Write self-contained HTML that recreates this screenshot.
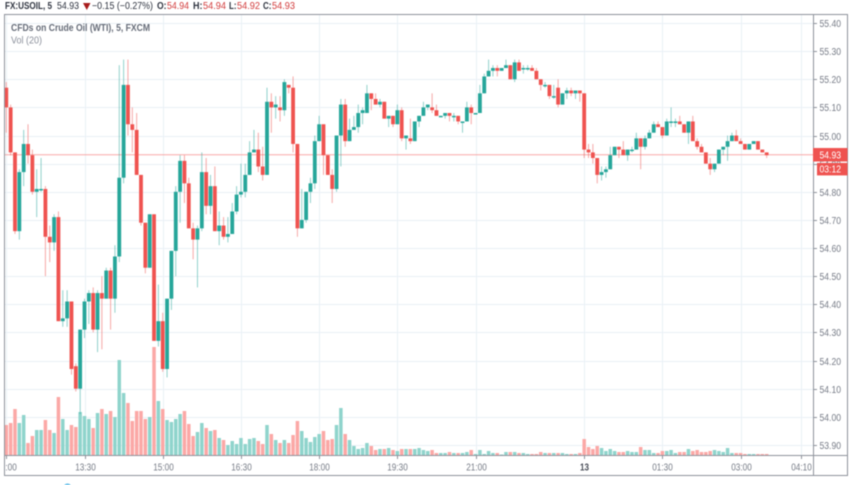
<!DOCTYPE html>
<html lang="en">
<head>
<meta charset="utf-8">
<title>FX:USOIL 5 minute chart</title>
<style>
  html, body { margin: 0; padding: 0; background: #fff; }
  body { width: 852px; height: 485px; overflow: hidden; position: relative; font-family: "Liberation Sans", sans-serif; }
  svg { position: absolute; left: 0; top: 0; display: block; filter: blur(0.5px); }
  text { font-family: "Liberation Sans", sans-serif; }
</style>
</head>
<body>
<svg id="chart" width="852" height="485" viewBox="0 0 852 485" xmlns="http://www.w3.org/2000/svg">
  <defs>
    <clipPath id="pane-clip"><rect x="5" y="15" width="808" height="440"></rect></clipPath>
    <clipPath id="time-clip"><rect x="5" y="455" width="808" height="20"></rect></clipPath>
  </defs>
  <g font-size="10" font-weight="700" fill="#2f3440">
    <text x="5" y="9" textLength="47" lengthAdjust="spacingAndGlyphs">FX:USOIL, 5</text>
    <text x="57" y="9" font-weight="400" textLength="22" lengthAdjust="spacingAndGlyphs">54.93</text>
    <polygon points="83,3 90.5,3 86.8,10" fill="#a81c1c"></polygon>
    <text x="92" y="9" font-weight="400" textLength="61" lengthAdjust="spacingAndGlyphs">−0.15 (−0.27%)</text>
    <text x="157" y="9" textLength="9.5" lengthAdjust="spacingAndGlyphs">O:</text>
    <text x="167" y="9" font-weight="400" fill="#d23c3c" textLength="22" lengthAdjust="spacingAndGlyphs">54.94</text>
    <text x="193" y="9" textLength="9.5" lengthAdjust="spacingAndGlyphs">H:</text>
    <text x="203" y="9" font-weight="400" fill="#d23c3c" textLength="23" lengthAdjust="spacingAndGlyphs">54.94</text>
    <text x="229" y="9" textLength="7.5" lengthAdjust="spacingAndGlyphs">L:</text>
    <text x="237" y="9" font-weight="400" fill="#d23c3c" textLength="23" lengthAdjust="spacingAndGlyphs">54.92</text>
    <text x="263" y="9" textLength="8.5" lengthAdjust="spacingAndGlyphs">C:</text>
    <text x="272" y="9" font-weight="400" fill="#d23c3c" textLength="23" lengthAdjust="spacingAndGlyphs">54.93</text>
  </g>
  <g id="grid"></g>
  <g id="pane" clip-path="url(#pane-clip)">
    <g id="volumes"></g>
    <line id="last-line" x1="5" x2="813" stroke="#f8a9a8" stroke-width="1"></line>
    <g id="candles"></g>
  </g>
  <g>
    <text x="11" y="31" font-size="10" font-weight="700" fill="#666c78" textLength="139" lengthAdjust="spacingAndGlyphs">CFDs on Crude Oil (WTI), 5, FXCM</text>
    <text x="11" y="43.5" font-size="10" fill="#8b909b" textLength="31" lengthAdjust="spacingAndGlyphs">Vol (20)</text>
  </g>
  <g fill="none" stroke="#8f939c" stroke-width="1">
    <rect x="4.5" y="14.5" width="843" height="461"></rect>
    <line x1="813.5" y1="14.5" x2="813.5" y2="475.5"></line>
    <line x1="4.5" y1="455.5" x2="847.5" y2="455.5"></line>
  </g>
  <g id="price-axis"></g>
  <g id="time-axis" clip-path="url(#time-clip)"></g>
  <g>
    <rect id="last-box" x="813" width="34.5" height="13.5" fill="#ef5350"></rect>
    <text id="last-text" x="819.5" font-size="10" fill="#fff" textLength="21.5" lengthAdjust="spacingAndGlyphs"></text>
    <rect id="count-box" x="817" width="30.5" height="12.5" fill="#ef5350"></rect>
    <text id="count-text" x="819.5" font-size="10" fill="#fff" textLength="21.5" lengthAdjust="spacingAndGlyphs">03:12</text>
  </g>
  <circle cx="67.5" cy="488" r="4.5" fill="#4fb6e6"></circle>
</svg>
<script>
const opens = [55.17,55.10,54.94,54.66,54.87,54.97,54.93,54.80,54.81,54.81,54.64,54.62,54.71,54.34,54.35,54.41,54.18,54.10,54.31,54.41,54.44,54.31,54.44,54.42,54.52,54.42,54.57,54.85,55.18,55.04,55.02,54.86,54.69,54.53,54.72,54.27,54.34,54.17,54.42,54.59,54.80,54.91,54.83,54.67,54.63,54.67,54.87,54.75,54.82,54.66,54.68,54.64,54.65,54.73,54.79,54.80,54.86,54.94,54.95,54.89,54.86,55.12,55.10,55.10,55.09,55.18,55.17,54.97,54.67,54.70,54.80,54.83,54.98,55.04,54.93,54.86,54.81,55.00,55.11,54.98,55.02,55.03,55.08,55.08,55.15,55.13,55.11,55.12,55.06,55.07,55.04,55.09,54.99,54.99,54.98,55.05,55.07,55.10,55.10,55.09,55.07,55.07,55.08,55.07,55.07,55.05,55.05,55.10,55.08,55.08,55.15,55.21,55.23,55.24,55.23,55.24,55.25,55.20,55.26,55.24,55.24,55.24,55.23,55.20,55.18,55.18,55.14,55.17,55.11,55.15,55.16,55.15,55.16,55.15,54.95,54.94,54.92,54.86,54.87,54.88,54.93,54.96,54.95,54.93,54.95,54.95,54.99,54.96,54.99,55.01,55.04,55.03,55.00,55.05,55.05,55.05,55.04,55.01,55.05,54.98,54.96,54.94,54.90,54.88,54.90,54.95,54.96,54.98,55.00,54.98,54.97,54.95,54.97,54.98,54.95,54.94];
const highs = [55.19,55.11,54.94,54.88,55.02,55.04,54.95,54.88,54.92,54.82,54.68,54.72,54.73,54.45,54.45,54.41,54.19,54.31,54.42,54.45,54.46,54.45,54.50,54.53,54.53,54.61,55.25,55.27,55.27,55.10,55.08,54.86,54.69,54.72,54.72,54.47,54.37,54.42,54.59,54.82,54.93,54.93,54.85,54.69,54.68,54.94,54.92,54.86,54.89,54.73,54.71,54.71,54.76,54.82,54.90,54.90,54.98,55.02,55.01,54.96,55.17,55.15,55.14,55.14,55.20,55.18,55.21,54.97,54.81,54.80,54.85,55.00,55.07,55.04,54.93,54.88,55.00,55.13,55.13,55.06,55.07,55.11,55.10,55.18,55.15,55.15,55.13,55.12,55.07,55.07,55.11,55.10,55.00,55.06,55.05,55.07,55.12,55.11,55.15,55.11,55.07,55.08,55.08,55.08,55.07,55.05,55.12,55.11,55.08,55.18,55.22,55.27,55.25,55.25,55.24,55.27,55.25,55.27,55.27,55.25,55.25,55.25,55.24,55.20,55.19,55.18,55.18,55.20,55.15,55.17,55.17,55.16,55.16,55.15,54.97,54.97,54.92,54.89,54.89,54.96,54.96,54.96,54.98,54.95,54.96,55.01,54.99,55.00,55.02,55.05,55.05,55.03,55.06,55.10,55.06,55.07,55.04,55.05,55.07,54.99,54.97,54.94,54.92,54.90,54.95,54.96,55.00,55.01,55.02,54.99,54.97,54.97,54.98,54.98,54.95,54.94];
const lows = [55.01,54.93,54.65,54.63,54.82,54.90,54.79,54.71,54.80,54.50,54.55,54.59,54.34,54.32,54.32,54.15,54.09,54.01,54.28,54.33,54.30,54.23,54.24,54.42,54.31,54.37,54.55,54.83,55.00,54.94,54.86,54.68,54.51,54.53,54.27,54.25,54.16,54.14,54.38,54.50,54.69,54.76,54.67,54.56,54.46,54.66,54.72,54.72,54.66,54.61,54.63,54.62,54.65,54.72,54.78,54.78,54.86,54.94,54.87,54.84,54.86,55.01,55.06,55.05,55.07,55.15,54.94,54.64,54.67,54.69,54.76,54.81,54.98,54.86,54.86,54.76,54.80,54.89,54.96,54.98,55.02,55.01,55.04,55.08,55.09,55.11,55.10,55.06,55.03,55.03,55.04,54.98,54.95,54.97,54.98,55.03,55.07,55.09,55.08,55.07,55.07,55.06,55.05,55.05,55.04,55.01,55.05,55.04,55.08,55.08,55.15,55.21,55.21,55.21,55.23,55.24,55.20,55.19,55.23,55.22,55.23,55.23,55.20,55.16,55.17,55.13,55.13,55.10,55.11,55.13,55.14,55.13,55.12,54.92,54.92,54.90,54.83,54.84,54.85,54.88,54.93,54.92,54.93,54.91,54.94,54.95,54.88,54.95,54.99,55.01,55.03,54.99,55.00,55.03,55.03,55.04,55.01,54.97,54.98,54.95,54.94,54.90,54.86,54.87,54.90,54.93,54.91,54.98,54.98,54.97,54.95,54.95,54.97,54.95,54.94,54.92];
const closes = [55.10,54.94,54.66,54.87,54.97,54.93,54.80,54.81,54.81,54.64,54.62,54.71,54.34,54.35,54.41,54.17,54.10,54.31,54.41,54.44,54.31,54.44,54.42,54.52,54.42,54.57,54.85,55.18,55.04,55.02,54.86,54.69,54.53,54.72,54.27,54.34,54.17,54.42,54.59,54.80,54.91,54.83,54.67,54.63,54.67,54.87,54.75,54.82,54.66,54.68,54.64,54.65,54.73,54.79,54.80,54.86,54.94,54.95,54.89,54.86,55.12,55.10,55.11,55.09,55.19,55.17,54.97,54.67,54.70,54.80,54.83,54.98,55.04,54.93,54.86,54.81,55.00,55.11,54.98,55.02,55.03,55.08,55.09,55.15,55.13,55.11,55.12,55.06,55.07,55.04,55.09,54.99,55.00,54.98,55.05,55.07,55.10,55.11,55.09,55.07,55.07,55.08,55.07,55.07,55.05,55.05,55.10,55.08,55.08,55.15,55.21,55.23,55.24,55.23,55.24,55.25,55.20,55.26,55.23,55.24,55.24,55.23,55.20,55.18,55.18,55.14,55.14,55.11,55.15,55.16,55.15,55.16,55.15,54.95,54.94,54.92,54.86,54.87,54.88,54.93,54.96,54.95,54.93,54.95,54.95,54.99,54.96,54.99,55.01,55.04,55.03,55.00,55.05,55.05,55.05,55.04,55.01,55.05,54.98,54.96,54.94,54.90,54.88,54.90,54.95,54.96,54.98,55.00,54.98,54.97,54.95,54.97,54.98,54.95,54.94,54.93];
const volumes = [30,32,46,32,40,12,19,25,25,35,25,22,58,36,25,30,28,43,39,36,27,42,46,41,44,38,95,62,52,34,44,44,36,38,108,54,46,35,33,36,41,44,31,19,23,32,27,24,25,17,15,10,14,11,17,11,16,17,14,11,30,21,15,12,15,12,20,34,24,17,13,18,21,24,15,16,30,47,21,15,9,6,7,12,9,5,6,6,7,5,4,6,6,6,6,7,5,4,5,2,2,2,3,2,2,2,3,5,1,5,1,4,2,2,0.5,3,3,3,2,2,1,1,1,3,2,2,2,2,2,1,1,1,2,16,8,6,9,7,4,6,4,3,3,4,3,3,8,5,5,2,2,4,4,5,2,3,3,6,4,5,3,3,4,5,4,3,7,2,2,2,1,1,1,1,1,1];
const priceTicks = [55.40,55.30,55.20,55.10,55.00,54.90,54.80,54.70,54.60,54.50,54.40,54.30,54.20,54.10,54.00,53.90];
const timeLabels = ["12:00","13:30","15:00","16:30","18:00","19:30","21:00","13","01:30","03:00","04:10"];
const timeBars = [0,18,36,54,72,90,108,133,151,169,183];
const boldTimeLabels = ["13"];
const lastPrice = 54.93;

const NS = "http://www.w3.org/2000/svg";
const topY = 23, pxPerUnit = 281.3, topPrice = 55.40;
const firstX = 6.3, barStep = 4.345, baseY = 455;
function yScale(p) { return topY + (topPrice - p) * pxPerUnit; }
function xScale(i) { return firstX + barStep * i; }
function volHeight(v) { return v * 1; }
function make(tag, attrs, parent) {
  const el = document.createElementNS(NS, tag);
  for (const k in attrs) el.setAttribute(k, attrs[k]);
  parent.appendChild(el);
  return el;
}
const grid = document.getElementById("grid");
const priceAxis = document.getElementById("price-axis");
const timeAxis = document.getElementById("time-axis");
const volG = document.getElementById("volumes");
const candleG = document.getElementById("candles");

priceTicks.forEach(function (p) {
  const y = Math.round(yScale(p)) + 0.5;
  const g = make("line", { x1: 5, x2: 813, y1: y, y2: y, stroke: "#eaf0f6", "stroke-width": 1 }, grid);
  
  
  const t = make("line", { x1: 813.5, x2: 817, y1: y, y2: y, stroke: "#8f939c", "stroke-width": 1 }, priceAxis);
  
  
  const l = make("text", { x: 819.5, y: y + 3.5, "font-size": 10, fill: "#777c87", textLength: 21.5, lengthAdjust: "spacingAndGlyphs" }, priceAxis);
  
  
  l.textContent = p.toFixed(2);
});

timeBars.forEach(function (b, k) {
  const x = Math.round(xScale(b)) + 0.5;
  const g = make("line", { x1: x, x2: x, y1: 15, y2: 455, stroke: "#e9f1f6", "stroke-width": 1 }, grid);
  
  
  const t = make("line", { x1: x, x2: x, y1: 455.5, y2: 459, stroke: "#8f939c", "stroke-width": 1 }, timeAxis);
  
  
  const bold = boldTimeLabels.indexOf(timeLabels[k]) >= 0;
  const l = make("text", { x: x, y: 470.5, "font-size": 10, "text-anchor": "middle", fill: bold ? "#4a4e58" : "#777c87", "font-weight": bold ? 700 : 400, textLength: bold ? 9 : 20.5, lengthAdjust: "spacingAndGlyphs" }, timeAxis);
  
  
  l.textContent = timeLabels[k];
});

closes.forEach(function (c, i) {
  const o = opens[i], up = c >= o;
  const col = up ? "#26a69a" : "#ef5350";
  const x = xScale(i);

  const vh = volHeight(volumes[i]);
  const vb = make("rect", { x: x - 1.75, y: baseY - vh, width: 3.5, height: vh, fill: up ? "#8fd4cc" : "#fba8a6" }, volG);
  
  

  const wick = make("rect", { x: x - 0.5, y: yScale(highs[i]), width: 1, height: Math.max(0.5, yScale(lows[i]) - yScale(highs[i])), fill: col, opacity: 0.5 }, candleG);
  
  

  const bTop = yScale(Math.max(o, c));
  const bH = Math.max(1.5, Math.abs(yScale(o) - yScale(c)));
  const body = make("rect", { x: x - 1.9, y: bTop, width: 3.8, height: bH, fill: col }, candleG);
  
  
});

const ly = yScale(lastPrice) - 0.5;
const lastLine = document.getElementById("last-line");
lastLine.setAttribute("y1", ly);
lastLine.setAttribute("y2", ly);
document.getElementById("last-box").setAttribute("y", ly - 6.7);
const lastText = document.getElementById("last-text");
lastText.setAttribute("y", ly + 3.6);
lastText.textContent = lastPrice.toFixed(2);
document.getElementById("count-box").setAttribute("y", ly + 8.2);
document.getElementById("count-text").setAttribute("y", ly + 18);
</script>
</body>
</html>
